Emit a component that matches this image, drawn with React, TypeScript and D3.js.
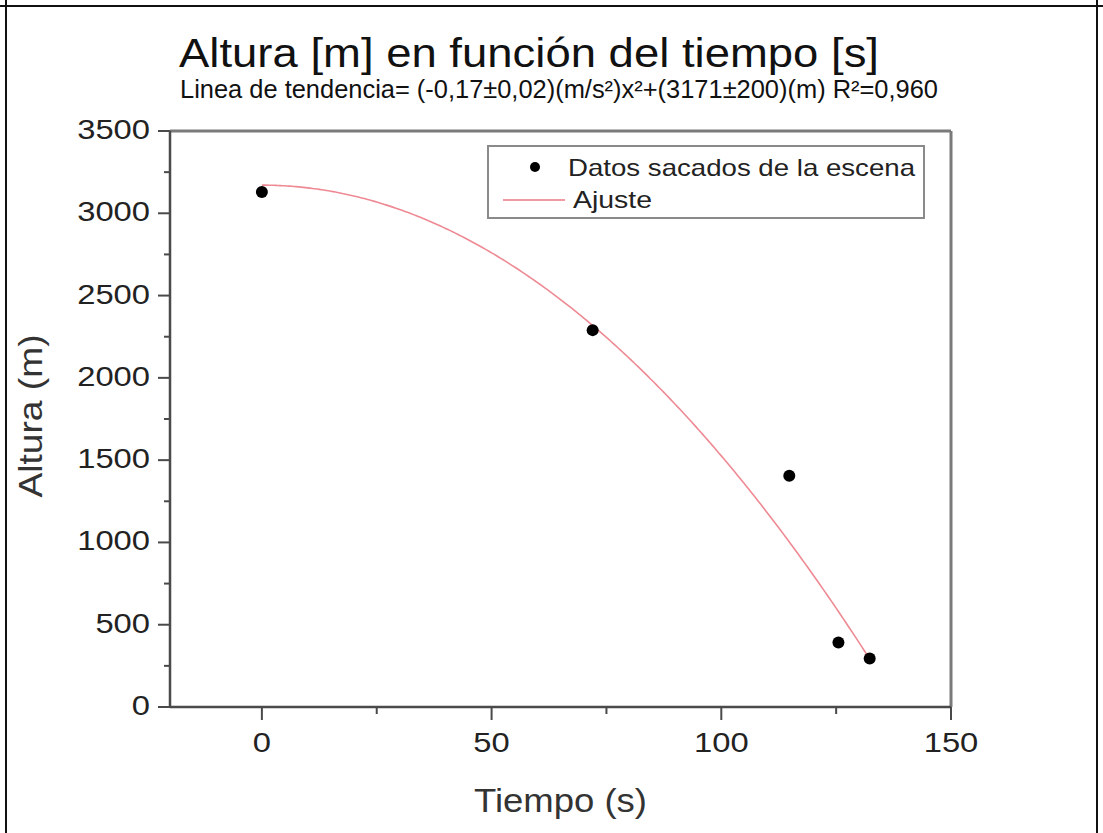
import React from "react";
import * as d3 from "d3";

const TIMES = [0, 72, 114.8, 125.5, 132.3];
const HEIGHTS = [3130, 2290, 1405, 392, 295];
const FIT_A = -0.1645;
const FIT_B = 3171;
const FIT_T_END = 132.3;
const X_TICKS = [0, 50, 100, 150];
const X_MINOR = [25, 75, 125];
const Y_TICKS = [0, 500, 1000, 1500, 2000, 2500, 3000, 3500];
const Y_MINOR = [250, 750, 1250, 1750, 2250, 2750, 3250];
const TITLE = "Altura [m] en función del tiempo [s]";
const SUBTITLE = "Linea de tendencia= (-0,17±0,02)(m/s²)x²+(3171±200)(m) R²=0,960";
const X_LABEL = "Tiempo (s)";
const Y_LABEL = "Altura (m)";
const LEGEND = ["Datos sacados de la escena", "Ajuste"];

const W = 1103;
const H = 833;
const FONT = "'Liberation Sans', Arial, sans-serif";

export default function App() {
  const x = d3.scaleLinear().domain([-20, 150]).range([170, 951]);
  const y = d3.scaleLinear().domain([0, 3500]).range([707, 131]);
  const fitPts = d3.range(0, FIT_T_END + 0.001, 0.5).concat([FIT_T_END]);
  const line = d3
    .line<number>()
    .x((t) => x(t))
    .y((t) => y(FIT_A * t * t + FIT_B));
  const digitW = 18.2;
  const axisColor = "#4a4a4a";
  const frameColor = "#7a7a7a";
  return (
    <svg
      width={W}
      height={H}
      style={{ position: "absolute", left: 0, top: 0, background: "#fff" }}
      fontFamily={FONT}
    >
      <rect x={0} y={0} width={W} height={H} fill="#fff" />
      {/* outer border */}
      <line x1={6} y1={0} x2={6} y2={H} stroke="#111" strokeWidth={2} />
      <line x1={0} y1={6} x2={W} y2={6} stroke="#111" strokeWidth={2} />
      <line x1={1097} y1={0} x2={1097} y2={H} stroke="#111" strokeWidth={2} />

      {/* titles */}
      <text x={179} y={67} fontSize={41} textLength={700} lengthAdjust="spacingAndGlyphs" fill="#111">
        {TITLE}
      </text>
      <text x={180} y={98} fontSize={25} textLength={758} lengthAdjust="spacingAndGlyphs" fill="#111">
        {SUBTITLE}
      </text>

      {/* frame top/right */}
      <line x1={x(-20)} y1={y(3500)} x2={x(150)} y2={y(3500)} stroke={frameColor} strokeWidth={3} />
      <line x1={x(150)} y1={y(3500)} x2={x(150)} y2={y(0)} stroke={frameColor} strokeWidth={3} />

      {/* axes */}
      <line x1={x(-20)} y1={y(0)} x2={x(150)} y2={y(0)} stroke={axisColor} strokeWidth={2.5} />
      <line x1={x(-20)} y1={y(0)} x2={x(-20)} y2={y(3500)} stroke={axisColor} strokeWidth={2.5} />

      {Y_TICKS.map((v) => (
        <g key={"yt" + v}>
          <line x1={x(-20) - 12} x2={x(-20)} y1={y(v)} y2={y(v)} stroke={axisColor} strokeWidth={2} />
          <text
            x={150}
            y={y(v) + 8}
            fontSize={28}
            textAnchor="end"
            textLength={String(v).length * digitW}
            lengthAdjust="spacingAndGlyphs"
            fill="#222"
          >
            {v}
          </text>
        </g>
      ))}
      {Y_MINOR.map((v) => (
        <line key={"ym" + v} x1={x(-20) - 6} x2={x(-20)} y1={y(v)} y2={y(v)} stroke={axisColor} strokeWidth={2} />
      ))}
      {X_TICKS.map((v) => (
        <g key={"xt" + v}>
          <line x1={x(v)} x2={x(v)} y1={y(0)} y2={y(0) + 13} stroke={axisColor} strokeWidth={2} />
          <text
            x={x(v)}
            y={752}
            fontSize={28}
            textAnchor="middle"
            textLength={String(v).length * digitW}
            lengthAdjust="spacingAndGlyphs"
            fill="#222"
          >
            {v}
          </text>
        </g>
      ))}
      {X_MINOR.map((v) => (
        <line key={"xm" + v} x1={x(v)} x2={x(v)} y1={y(0)} y2={y(0) + 7} stroke={axisColor} strokeWidth={2} />
      ))}

      {/* axis titles */}
      <text
        x={(x(-20) + x(150)) / 2}
        y={812}
        fontSize={34}
        textAnchor="middle"
        textLength={173}
        lengthAdjust="spacingAndGlyphs"
        fill="#333"
      >
        {X_LABEL}
      </text>
      <text
        transform={`translate(42, ${(y(0) + y(3500)) / 2 - 3}) rotate(-90)`}
        fontSize={34}
        textAnchor="middle"
        textLength={163}
        lengthAdjust="spacingAndGlyphs"
        fill="#333"
      >
        {Y_LABEL}
      </text>

      {/* fit curve */}
      <path d={line(fitPts) || ""} fill="none" stroke="#ee8a94" strokeWidth={1.6} />

      {/* data points */}
      {TIMES.map((t, i) => (
        <circle key={"p" + i} cx={x(t)} cy={y(HEIGHTS[i])} r={6} fill="#000" />
      ))}

      {/* legend */}
      <rect x={488} y={146} width={436} height={72} fill="#fff" stroke="#8a8a8a" strokeWidth={2} />
      <circle cx={535} cy={167} r={5} fill="#000" />
      <text x={568} y={176} fontSize={24} textLength={347} lengthAdjust="spacingAndGlyphs" fill="#222">
        {LEGEND[0]}
      </text>
      <line x1={503} x2={565} y1={200} y2={200} stroke="#f09aa2" strokeWidth={2} />
      <text x={573} y={208} fontSize={24} textLength={79} lengthAdjust="spacingAndGlyphs" fill="#222">
        {LEGEND[1]}
      </text>
    </svg>
  );
}
